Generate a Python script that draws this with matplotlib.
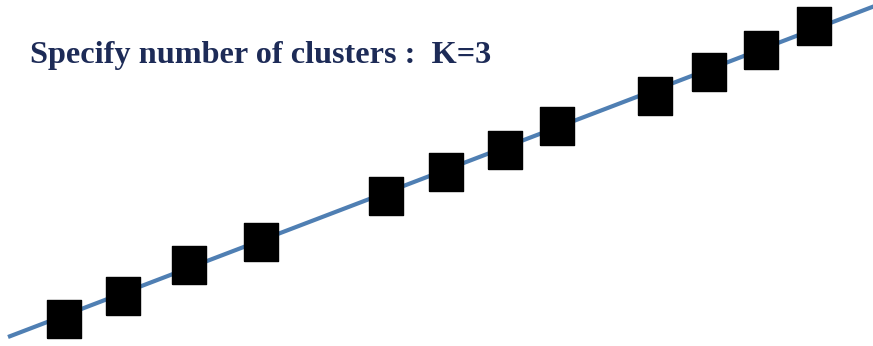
import matplotlib
matplotlib.use("Agg")
import matplotlib.pyplot as plt

# fitted line through the points (left end, right end)
line_x = [8, 880]
line_y = [337, 4]

# point centres
pts_x = [64, 123, 189, 261, 386, 446, 505, 557, 655, 709, 761, 814]
pts_y = [319, 296, 265, 242, 196, 172, 150, 126, 96, 72, 50, 26]

title = "Specify number of clusters :  K=3"

fig = plt.figure(figsize=(8.73, 3.46), dpi=100)
ax = fig.add_axes([0, 0, 1, 1])
ax.set_xlim(0, 873)
ax.set_ylim(346, 0)
ax.axis("off")

ax.plot(line_x, line_y, color="#4f7fb3", lw=3.0, solid_capstyle="butt", zorder=1)

# slightly tall rectangles
box = [(-0.435, -0.5), (0.435, -0.5), (0.435, 0.5), (-0.435, 0.5), (-0.435, -0.5)]
ax.plot(pts_x, pts_y, ls="none", marker=box, ms=27.4, color="black", zorder=2)

ax.text(30, 63, title, fontsize=23.2, fontweight="bold", family="Liberation Serif",
        color="#1d2b57", va="baseline", ha="left")

fig.savefig("out.png", dpi=100)
